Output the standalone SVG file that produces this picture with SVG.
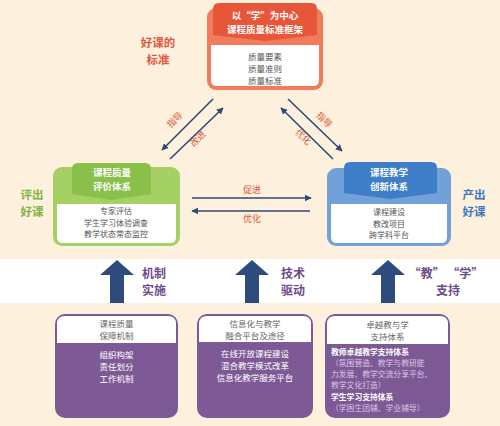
<svg xmlns="http://www.w3.org/2000/svg" width="500" height="426" viewBox="0 0 500 426">
<defs>
<marker id="ah" viewBox="0 0 10 10" refX="9" refY="5" markerWidth="7" markerHeight="7" markerUnits="userSpaceOnUse" orient="auto">
<path d="M0,0 L10,5 L0,10 z" fill="#2d4a7c"/>
</marker>
<style>
text{font-family:"Noto Sans CJK SC","Noto Sans",sans-serif;text-anchor:middle}
.hd{fill:#fff;font-size:9.5px;font-weight:bold}
.bd{fill:#555;font-size:8.5px}
.bd2{fill:#555;font-size:8px}
.side{font-size:11.5px;font-weight:bold}
.lbl{fill:#d9583c;font-size:9px}
.con{stroke:#2d4a7c;stroke-width:1.6;fill:none;marker-end:url(#ah)}
.blk{fill:#2e4b7e}
.pl{fill:#6e4b8b;font-size:12px;font-weight:bold}
.pbox{fill:#7d5a96}
.phd{fill:#fff}
.pht{fill:#666;font-size:8.5px}
.pbt{fill:#fff;font-size:8.5px}
.pst{fill:#fff;font-size:7.8px;font-weight:bold;text-anchor:start}
.plt{fill:#d9c3e3;font-size:7.8px;text-anchor:start}
</style>
</defs>
<rect width="500" height="426" fill="#fdf0dc"/>
<rect x="0" y="259" width="500" height="44" fill="#ffffff"/>

<g id="connectors">
<line class="con" x1="213" y1="99" x2="162" y2="150"/>
<line class="con" x1="170" y1="159" x2="223" y2="108"/>
<line class="con" x1="288" y1="99" x2="342" y2="151"/>
<line class="con" x1="333" y1="159" x2="281" y2="108"/>
<line class="con" x1="192" y1="198" x2="311" y2="198"/>
<line class="con" x1="310" y1="211" x2="192" y2="211"/>
<text class="lbl" transform="translate(177,122) rotate(-45)">指导</text>
<text class="lbl" transform="translate(200,141) rotate(-45)">改进</text>
<text class="lbl" transform="translate(322,122) rotate(45)">指导</text>
<text class="lbl" transform="translate(301,139) rotate(45)">优化</text>
<text class="lbl" x="252" y="193">促进</text>
<text class="lbl" x="252" y="222">优化</text>
</g>

<g id="top-node">
<rect x="207" y="8" width="116" height="82" rx="9" fill="#f27b5b"/>
<path d="M211,45 H319 V80 Q319,86 313,86 H217 Q211,86 211,80 Z" fill="#fff"/>
<path d="M213,9 Q213,3 219,3 H311 Q317,3 317,9 V35 L265,41 L213,35 Z" fill="#e8563a"/>
<text class="hd"><tspan x="265" y="19">以“学”为中心</tspan><tspan x="265" y="32.5">课程质量标准框架</tspan></text>
<text class="bd"><tspan x="265" y="60">质量要素</tspan><tspan x="265" y="72">质量准则</tspan><tspan x="265" y="84">质量标准</tspan></text>
</g>
<g id="label-standard">
<text class="side" fill="#e0583c"><tspan x="158" y="47">好课的</tspan><tspan x="158" y="63.5">标准</tspan></text>
</g>

<g id="left-node">
<rect x="53" y="167" width="127" height="79" rx="9" fill="#a5d064"/>
<path d="M57,204 H176 V237 Q176,243 170,243 H63 Q57,243 57,237 Z" fill="#fff"/>
<path d="M72,169 Q72,163 78,163 H145 Q151,163 151,169 V194 L111.5,200 L72,194 Z" fill="#8ac04a"/>
<text class="hd"><tspan x="112" y="176">课程质量</tspan><tspan x="112" y="189.5">评价体系</tspan></text>
<text class="bd2"><tspan x="116" y="214">专家评估</tspan><tspan x="116" y="225.5">学生学习体验调查</tspan><tspan x="116" y="237">教学状态常态监控</tspan></text>
</g>
<g id="label-evaluate">
<text class="side" fill="#7cb43e"><tspan x="32" y="199">评出</tspan><tspan x="32" y="215.5">好课</tspan></text>
</g>

<g id="right-node">
<rect x="327" y="168" width="124" height="78" rx="9" fill="#72a1d9"/>
<path d="M331,204 H447 V237 Q447,243 441,243 H337 Q331,243 331,237 Z" fill="#fff"/>
<path d="M344,168 Q344,162 350,162 H431 Q437,162 437,168 V193 L390.5,199 L344,193 Z" fill="#3e7ec6"/>
<text class="hd"><tspan x="389" y="176">课程教学</tspan><tspan x="389" y="189.5">创新体系</tspan></text>
<text class="bd2"><tspan x="389" y="215">课程建设</tspan><tspan x="389" y="226.5">教改项目</tspan><tspan x="389" y="238">跨学科平台</tspan></text>
</g>
<g id="label-produce">
<text class="side" fill="#3b79c2"><tspan x="474" y="199">产出</tspan><tspan x="474" y="215.5">好课</tspan></text>
</g>

<g id="support-arrows">
<path class="blk" d="M117,260 L134,275 H124 V303 H110 V275 H100 Z"/>
<path class="blk" d="M252,260 L269,275 H259 V303 H245 V275 H235 Z"/>
<path class="blk" d="M388,260 L405,275 H395 V303 H381 V275 H371 Z"/>
<text class="pl"><tspan x="154" y="278">机制</tspan><tspan x="154" y="295">实施</tspan></text>
<text class="pl"><tspan x="293" y="278">技术</tspan><tspan x="293" y="295">驱动</tspan></text>
<text class="pl"><tspan x="446" y="278">“教” “学”</tspan><tspan x="448" y="295">支持</tspan></text>
</g>

<g id="box-mechanism">
<rect class="pbox" x="55" y="314" width="123" height="104" rx="10"/>
<path class="phd" d="M57,343 V324 Q57,316 65,316 H168 Q176,316 176,324 V343 Z"/>
<text class="pht"><tspan x="116.5" y="327">课程质量</tspan><tspan x="116.5" y="339">保障机制</tspan></text>
<text class="pbt"><tspan x="116.5" y="358">组织构架</tspan><tspan x="116.5" y="370">责任划分</tspan><tspan x="116.5" y="382">工作机制</tspan></text>
</g>

<g id="box-technology">
<rect class="pbox" x="197" y="314" width="116" height="104" rx="10"/>
<path class="phd" d="M199,342 V324 Q199,316 207,316 H303 Q311,316 311,324 V342 Z"/>
<text class="pht"><tspan x="255" y="327">信息化与教学</tspan><tspan x="255" y="339">融合平台及途径</tspan></text>
<text class="pbt"><tspan x="255" y="357">在线开放课程建设</tspan><tspan x="255" y="369">混合教学模式改革</tspan><tspan x="255" y="381">信息化教学服务平台</tspan></text>
</g>

<g id="box-support">
<rect class="pbox" x="325" y="314" width="125" height="104" rx="10"/>
<path class="phd" d="M327,344 V324 Q327,316 335,316 H440 Q448,316 448,324 V344 Z"/>
<text class="pht"><tspan x="387.5" y="328">卓越教与学</tspan><tspan x="387.5" y="340">支持体系</tspan></text>
<text class="pst" x="331" y="355">教师卓越教学支持体系</text>
<text class="plt"><tspan x="331" y="366">（氛围营造、教学与教研能</tspan><tspan x="331" y="377">力发展、教学交流分享平台、</tspan><tspan x="331" y="388">教学文化打造）</tspan></text>
<text class="pst" x="331" y="399.5">学生学习支持体系</text>
<text class="plt" x="331" y="410.5">（学困生团辅、学业辅导）</text>
</g>
</svg>
